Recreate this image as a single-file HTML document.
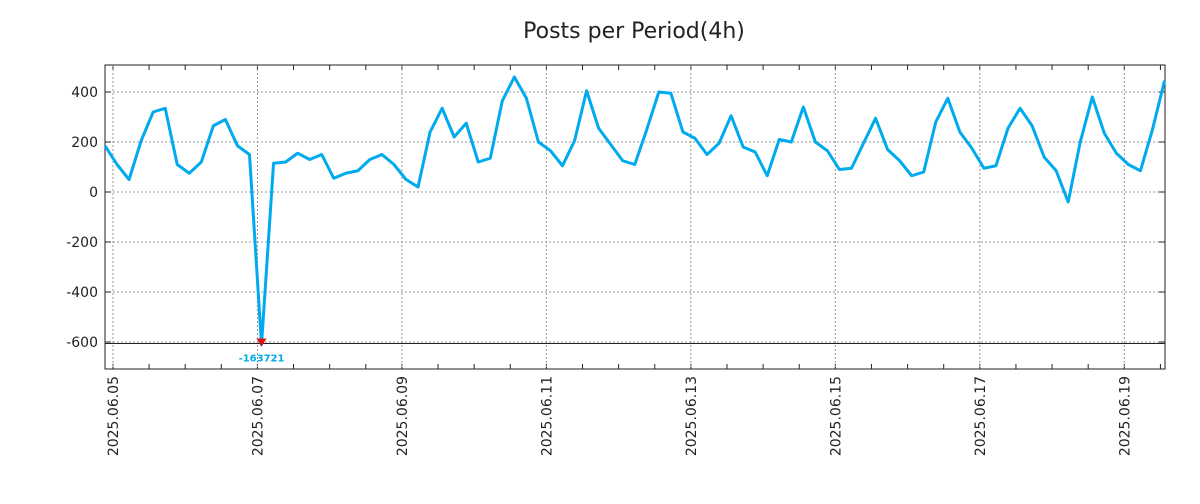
<!DOCTYPE html>
<html><head><meta charset="utf-8"><style>
body{margin:0;background:#fff;font-family:"DejaVu Sans","Liberation Sans",sans-serif}
</style></head><body>
<svg id="chart" width="1200" height="500" xmlns="http://www.w3.org/2000/svg">
<text x="634" y="38" text-anchor="middle" font-size="22" fill="#222">Posts per Period(4h)</text>
</svg>
<script>
const values=[185,110,50,205,320,335,110,75,120,265,290,185,150,-610,115,120,155,130,150,55,75,85,130,150,110,50,20,240,335,220,275,120,135,365,460,375,200,165,105,205,405,255,190,125,110,250,400,395,240,215,150,195,305,180,160,65,210,200,340,200,165,90,95,195,295,170,125,65,80,280,375,240,175,95,105,255,335,265,140,85,-40,200,380,235,155,110,85,250,445];
const yTicks=[400,200,0,-200,-400,-600];
const dateLabels=["2025.06.05","2025.06.07","2025.06.09","2025.06.11","2025.06.13","2025.06.15","2025.06.17","2025.06.19"];
const minLabel="-163721";
const minIndex=13;

const svg=document.getElementById('chart');
const NS='http://www.w3.org/2000/svg';
const L=105,R=1165,T=65,B=369;
const x=i=>L+i*12.04;
const y=v=>192-v*0.25;
const dayIdx=d=>0.66+6*d; // d days after 06.05
function mk(tag,attrs){const e=document.createElementNS(NS,tag);for(const k in attrs)e.setAttribute(k,attrs[k]);svg.appendChild(e);return e;}

yTicks.forEach(v=>{
  const g=mk('line',{x1:L,x2:R,y1:y(v),y2:y(v),stroke:'#999','stroke-dasharray':'2,2'});
  
  
  const t=mk('text',{x:98,y:y(v)+5,'text-anchor':'end','font-size':'14',fill:'#222'});
  t.textContent=v;
  
  
  mk('line',{x1:L,x2:L+6,y1:y(v),y2:y(v),stroke:'#222'});
  mk('line',{x1:R-6,x2:R,y1:y(v),y2:y(v),stroke:'#222'});
});
for(let h=-1;h<30;h++){
  const xi=x(dayIdx(h/2));
  if(xi<L||xi>R)continue;
  mk('line',{x1:xi,x2:xi,y1:T,y2:T+5,stroke:'#222'});
  mk('line',{x1:xi,x2:xi,y1:B-5,y2:B,stroke:'#222'});
}
dateLabels.forEach((lab,k)=>{
  const xi=x(dayIdx(k*2));
  const g=mk('line',{x1:xi,x2:xi,y1:T,y2:B,stroke:'#999','stroke-dasharray':'2,2'});
  
  
  const t=mk('text',{x:0,y:0,'text-anchor':'end','font-size':'14',fill:'#222',transform:`translate(${xi+5},376) rotate(-90)`});
  t.textContent=lab;
  
  
});
const base=mk('line',{x1:L,x2:R,y1:343.5,y2:343.5,stroke:'#222'});


const frame=mk('rect',{x:L,y:T,width:R-L,height:B-T,fill:'none',stroke:'#222'});


const line=mk('polyline',{points:values.map((v,i)=>x(i)+','+y(v)).join(' '),fill:'none',stroke:'#00aaee','stroke-width':'3','stroke-linejoin':'round'});


const mx=x(minIndex),my=y(values[minIndex])-2;
const tri=mk('polygon',{points:`${mx-5},${my-4} ${mx+5},${my-4} ${mx},${my+4}`,fill:'#dd1111'});


const ml=mk('text',{x:mx,y:my+19,'text-anchor':'middle','font-size':'10','font-weight':'bold',fill:'#00aaee'});
ml.textContent=minLabel;


</script>
</body></html>
